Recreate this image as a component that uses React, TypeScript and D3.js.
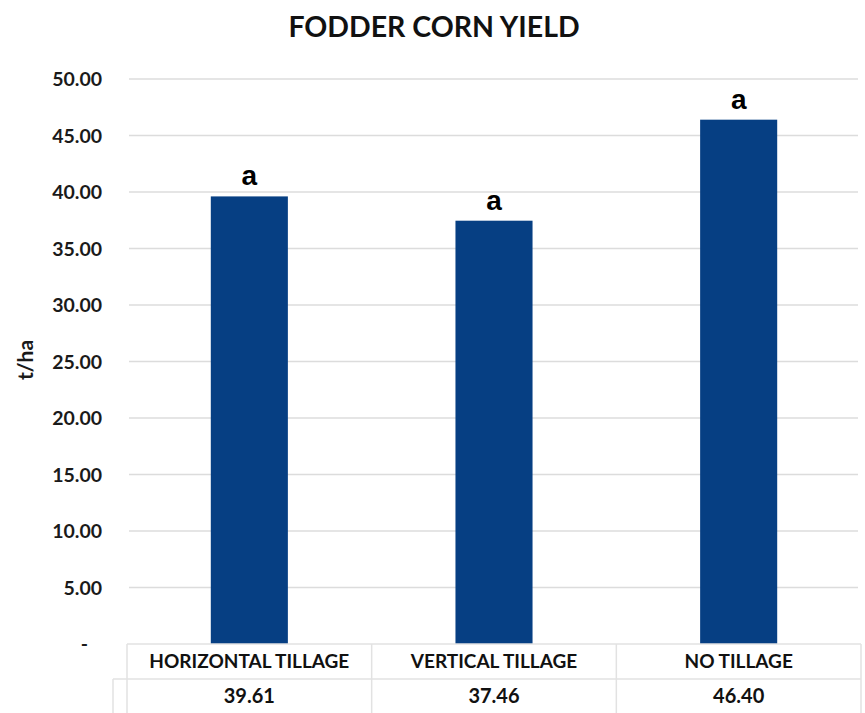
import React from "react";
import * as d3 from "d3";

const categories = ["HORIZONTAL TILLAGE", "VERTICAL TILLAGE", "NO TILLAGE"];
const yieldValues = [39.61, 37.46, 46.4];
const groupLetters = ["a", "a", "a"];
const yTicks = [0, 5, 10, 15, 20, 25, 30, 35, 40, 45, 50];

const W = 865;
const H = 713;
const plotLeft = 127;
const plotRight = 861;
const plotTop = 79;
const plotBottom = 644;
const tableMid = 679;
const tableKeyLeft = 113;

const barColor = "#063f83";
const gridColor = "#dcdcdc";
const tableLine = "#e2e2e2";
const font = "Lato, 'Open Sans', sans-serif";

export default function App() {
  const x = d3.scaleBand<string>().domain(categories).range([plotLeft, plotRight]).padding(0);
  const y = d3.scaleLinear().domain([0, 50]).range([plotBottom, plotTop]);
  const bw = x.bandwidth() * 0.315;
  const fmt = d3.format(".2f");

  return (
    <svg width={W} height={H} style={{ position: "absolute", left: 0, top: 0, background: "#fff" }}>
      <rect width={W} height={H} fill="#fff" />
      <text x={434} y={37} textAnchor="middle" fontFamily={font} fontWeight={700} fontSize={28.5} fill="#111">
        FODDER CORN YIELD
      </text>

      {yTicks.filter((t) => t > 0).map((t) => (
        <line key={t} x1={plotLeft + 2} x2={plotRight - 3} y1={y(t)} y2={y(t)} stroke={gridColor} strokeWidth={1.5} />
      ))}

      {yTicks.map((t) => (
        <text key={t} x={t === 0 ? 88 : 102} y={y(t) + 7} textAnchor="end" fontFamily={font} fontWeight={700} fontSize={19.5} fill="#1a1a1a">
          {t === 0 ? "-" : fmt(t)}
        </text>
      ))}

      <text transform={`translate(33,${360}) rotate(-90)`} textAnchor="middle" fontFamily={font} fontWeight={700} fontSize={21} fill="#1a1a1a">
        t/ha
      </text>

      {categories.map((c, i) => {
        const cx = (x(c) as number) + x.bandwidth() / 2;
        return (
          <g key={c}>
            <rect x={cx - bw / 2} y={y(yieldValues[i])} width={bw} height={plotBottom - y(yieldValues[i])} fill={barColor} />
            <text x={cx} y={y(yieldValues[i]) - 11} textAnchor="middle" fontFamily="'Liberation Sans', Arial, sans-serif" fontWeight={700} fontSize={28} fill="#000">
              {groupLetters[i]}
            </text>
          </g>
        );
      })}

      {/* data table under the axis */}
      <line x1={plotLeft} x2={plotRight} y1={plotBottom} y2={plotBottom} stroke={tableLine} strokeWidth={1.5} />
      <line x1={tableKeyLeft} x2={plotRight} y1={tableMid} y2={tableMid} stroke={tableLine} strokeWidth={1.5} />
      <line x1={tableKeyLeft} x2={tableKeyLeft} y1={tableMid} y2={H} stroke={tableLine} strokeWidth={1.5} />
      {[...categories.map((c) => x(c) as number), plotRight].map((bx, i) => (
        <line key={i} x1={bx} x2={bx} y1={plotBottom} y2={H} stroke={tableLine} strokeWidth={1.5} />
      ))}
      {categories.map((c, i) => {
        const cx = (x(c) as number) + x.bandwidth() / 2;
        return (
          <g key={c}>
            <text x={cx} y={668} textAnchor="middle" fontFamily={font} fontWeight={700} fontSize={19} fill="#111">
              {c}
            </text>
            <text x={cx} y={703} textAnchor="middle" fontFamily={font} fontWeight={700} fontSize={20} fill="#111">
              {fmt(yieldValues[i])}
            </text>
          </g>
        );
      })}
    </svg>
  );
}
